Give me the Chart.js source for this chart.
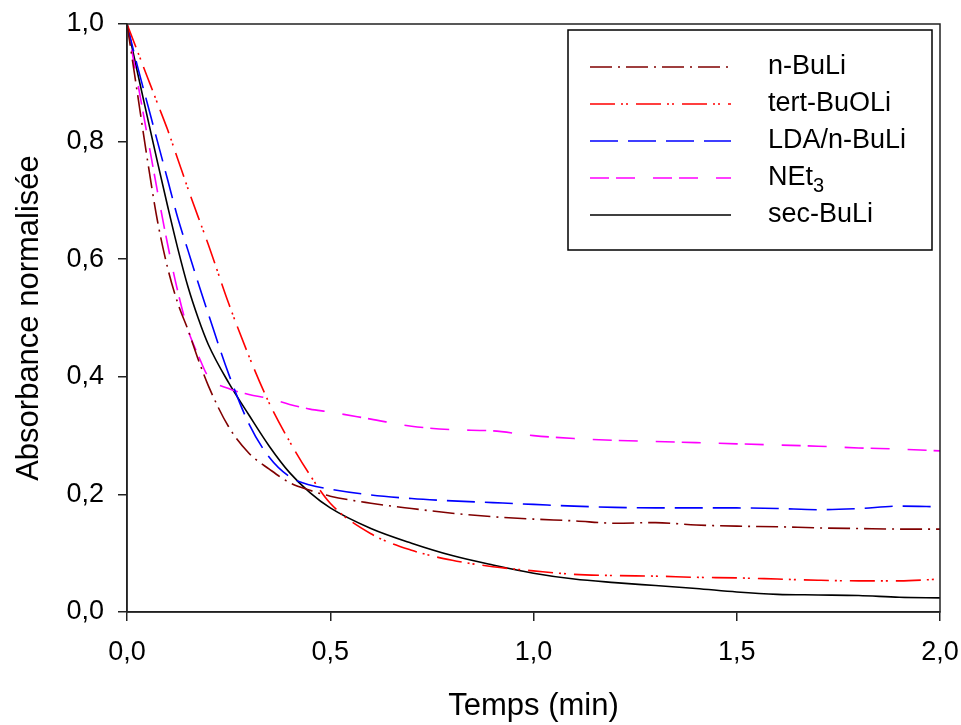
<!DOCTYPE html>
<html>
<head>
<meta charset="utf-8">
<script src="https://cdn.jsdelivr.net/npm/chart.js@4"></script>
<style>
  body { margin: 0; background: #fff; }
  canvas { display: block; }
</style>
</head>
<body>
<canvas id="chart" width="961" height="725"></canvas>
<script>
/*  Data  */
const times = [0, 0.025, 0.05, 0.075, 0.1, 0.125, 0.15, 0.175, 0.2, 0.25, 0.3, 0.35, 0.4, 0.45, 0.5,
    0.6, 0.7, 0.8, 0.9, 1.0, 1.1, 1.2, 1.3, 1.4, 1.5, 1.6, 1.7, 1.8, 1.9, 2.0];

const nBuLi = [1.0, 0.885, 0.77, 0.665, 0.585, 0.525, 0.48, 0.43, 0.385, 0.315, 0.27, 0.243, 0.22, 0.207, 0.197,
    0.185, 0.176, 0.168, 0.162, 0.158, 0.155, 0.151, 0.152, 0.148, 0.146, 0.145, 0.143, 0.142, 0.141, 0.141];
const tertBuOLi = [1.0, 0.955, 0.91, 0.865, 0.82, 0.77, 0.72, 0.672, 0.625, 0.525, 0.435, 0.355, 0.29, 0.233, 0.185,
    0.133, 0.105, 0.088, 0.077, 0.07, 0.064, 0.062, 0.061, 0.059, 0.058, 0.056, 0.054, 0.053, 0.053, 0.056];
const ldaBuLi = [1.0, 0.93, 0.865, 0.80, 0.735, 0.67, 0.615, 0.56, 0.507, 0.405, 0.32, 0.263, 0.23, 0.216, 0.209,
    0.199, 0.193, 0.189, 0.186, 0.183, 0.18, 0.178, 0.177, 0.177, 0.177, 0.176, 0.174, 0.176, 0.18, 0.179];
const net3 = [1.0, 0.905, 0.81, 0.715, 0.625, 0.545, 0.48, 0.437, 0.40, 0.38, 0.37, 0.363, 0.353, 0.345, 0.34,
    0.328, 0.316, 0.31, 0.308, 0.30, 0.295, 0.292, 0.29, 0.288, 0.286, 0.284, 0.282, 0.279, 0.277, 0.274];
const secBuLi = [1.0, 0.92, 0.842, 0.765, 0.69, 0.618, 0.553, 0.5, 0.455, 0.39, 0.335, 0.282, 0.237, 0.203, 0.177,
    0.142, 0.117, 0.096, 0.08, 0.066, 0.056, 0.05, 0.045, 0.04, 0.034, 0.03, 0.029, 0.028, 0.025, 0.024];

const seriesLabels = ['n-BuLi', 'tert-BuOLi', 'LDA/n-BuLi', 'NEt3', 'sec-BuLi'];
const seriesValues = [nBuLi, tertBuOLi, ldaBuLi, net3, secBuLi];
const seriesColors = ['#800000', '#ff0000', '#0000ff', '#ff00ff', '#000000'];
const seriesDashes = [[22, 6, 2, 6], [25, 6, 2, 3, 2, 8], [28, 10], [19, 7, 19, 18], []];

const xTicks = [0, 0.5, 1.0, 1.5, 2.0];
const yTicks = [0, 0.2, 0.4, 0.6, 0.8, 1.0];

const FONT = "'Liberation Sans', Arial, sans-serif";
const fmt = v => v.toFixed(1).replace('.', ',');

/*  frame round the plot area  */
const framePlugin = {
    id: 'frame',
    afterDatasetsDraw(chart) {
        const { ctx, chartArea: a } = chart;
        ctx.save();
        ctx.strokeStyle = '#222';
        ctx.lineWidth = 1.5;
        ctx.strokeRect(a.left, a.top, a.right - a.left, a.bottom - a.top);
        ctx.restore();
    }
};

/*  boxed legend in the top right corner  */
const legendPlugin = {
    id: 'boxLegend',
    afterDraw(chart) {
        const ctx = chart.ctx;
        ctx.save();
        ctx.fillStyle = '#fff';
        ctx.fillRect(568, 30, 364, 220);
        ctx.strokeStyle = '#000';
        ctx.lineWidth = 1.5;
        ctx.strokeRect(568, 30, 364, 220);

        chart.data.datasets.forEach((ds, i) => {
            const y = 67 + i * 37;
            ctx.beginPath();
            ctx.setLineDash(ds.borderDash || []);
            ctx.strokeStyle = ds.borderColor;
            ctx.lineWidth = ds.borderWidth;
            ctx.moveTo(590, y);
            ctx.lineTo(731, y);
            ctx.stroke();
            ctx.setLineDash([]);

            ctx.fillStyle = '#000';
            ctx.textBaseline = 'middle';
            ctx.textAlign = 'left';
            ctx.font = `27px ${FONT}`;
            const m = ds.label.match(/^(.*?)(\d+)$/);
            if (m) {
                ctx.fillText(m[1], 768, y);
                const w = ctx.measureText(m[1]).width;
                ctx.font = `20px ${FONT}`;
                ctx.fillText(m[2], 768 + w, y + 8);
            } else {
                ctx.fillText(ds.label, 768, y);
            }
        });
        ctx.restore();
    }
};

const datasets = seriesLabels.map((label, i) => ({
    label,
    data: times.map((t, j) => ({ x: t, y: seriesValues[i][j] })),
    borderColor: seriesColors[i],
    borderDash: seriesDashes[i],
    borderWidth: 1.6,
    pointRadius: 0,
    fill: false,
    cubicInterpolationMode: 'monotone'
}));

new Chart(document.getElementById('chart'), {
    type: 'line',
    data: { datasets },
    plugins: [framePlugin, legendPlugin],
    options: {
        responsive: false,
        animation: false,
        layout: { padding: { left: 0, right: 21, top: 24, bottom: 0 } },
        plugins: {
            legend: { display: false },
            tooltip: { enabled: false }
        },
        scales: {
            x: {
                type: 'linear',
                min: 0,
                max: 2,
                afterFit: s => { s.height = 113; s.paddingLeft = 0; s.paddingRight = 0; },
                afterBuildTicks: s => { s.ticks = xTicks.map(v => ({ value: v })); },
                grid: { drawOnChartArea: false, drawTicks: true, tickLength: 9, color: '#222', lineWidth: 1.5 },
                border: { display: true, color: '#222', width: 1.5 },
                ticks: {
                    color: '#000',
                    padding: 15,
                    maxRotation: 0,
                    font: { family: FONT, size: 27 },
                    callback: v => fmt(v)
                },
                title: {
                    display: true,
                    text: 'Temps (min)',
                    color: '#000',
                    font: { family: FONT, size: 31, lineHeight: 1.2 },
                    padding: { top: 0, bottom: 0 }
                }
            },
            y: {
                min: 0,
                max: 1,
                afterFit: s => { s.width = 127; s.paddingTop = 0; s.paddingBottom = 0; },
                afterBuildTicks: s => { s.ticks = yTicks.map(v => ({ value: v })); },
                grid: { drawOnChartArea: false, drawTicks: true, tickLength: 9, color: '#222', lineWidth: 1.5 },
                border: { display: true, color: '#222', width: 1.5 },
                ticks: {
                    color: '#000',
                    padding: 14,
                    font: { family: FONT, size: 27 },
                    callback: v => fmt(v)
                },
                title: {
                    display: true,
                    text: 'Absorbance normalisée',
                    color: '#000',
                    font: { family: FONT, size: 31, lineHeight: 1.2 },
                    padding: { top: 11, bottom: 0 }
                }
            }
        }
    }
});
</script>
</body>
</html>
